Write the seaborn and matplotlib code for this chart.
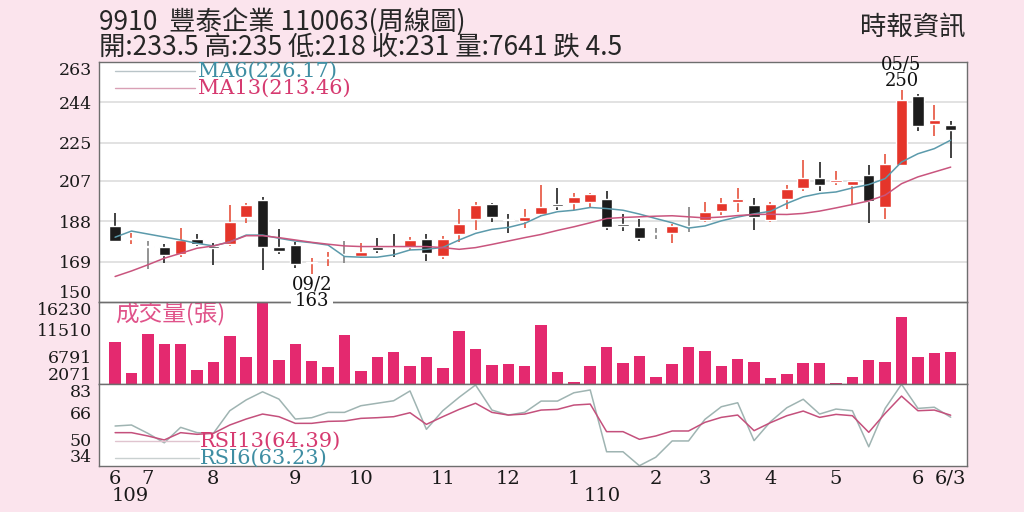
import numpy as np
import matplotlib
matplotlib.use("Agg")
import matplotlib.pyplot as plt
import seaborn as sns

# ── Data (weekly bars, 109/6 .. 110/6/3) ─────────────────────────────────────

weeks = list(range(52))

opens = [185.9, 179.6, 175.7, 175.7, 172.5, 179.8, 176.4, 177.2, 190.0, 197.8,
         175.7, 176.8, 168.2, 170.6, 172.1, 171.5, 175.7, 175.9, 176.0, 179.8,
         171.8, 182.0, 189.0, 196.2, 189.3, 188.2, 191.4, 196.2, 196.4, 197.1,
         198.7, 186.8, 185.3, 182.0, 182.3, 185.4, 188.5, 192.9, 197.1, 195.9,
         188.5, 198.3, 203.7, 208.4, 206.5, 205.3, 210.0, 194.8, 214.3, 247.1,
         234.0, 233.5]
highs = [192.0, 182.3, 178.7, 177.3, 184.7, 181.8, 177.6, 195.6, 196.7, 199.5,
         184.3, 178.4, 170.6, 173.4, 178.7, 177.6, 180.0, 181.8, 180.7, 182.0,
         181.0, 193.6, 197.1, 196.7, 191.2, 193.7, 205.3, 203.7, 201.1, 201.5,
         202.3, 191.2, 188.9, 184.7, 186.5, 194.8, 197.1, 199.0, 203.7, 199.0,
         197.1, 205.0, 216.7, 215.9, 211.7, 206.8, 214.3, 219.8, 250.0, 247.9,
         242.9, 235.0]
lows = [178.5, 177.2, 165.4, 168.5, 171.3, 176.5, 167.4, 176.5, 187.0, 165.1,
        172.5, 165.9, 163.0, 167.0, 168.2, 170.9, 172.9, 171.0, 174.5, 169.5,
        170.1, 178.4, 183.9, 187.8, 182.3, 184.9, 190.4, 193.2, 193.2, 194.8,
        183.9, 183.5, 178.8, 179.6, 177.9, 183.1, 187.8, 190.9, 192.4, 183.9,
        187.8, 193.7, 202.1, 202.3, 205.0, 195.9, 187.3, 188.9, 214.3, 230.3,
        228.1, 218.0]
closes = [178.8, 180.2, 175.7, 172.1, 179.2, 177.2, 175.6, 187.8, 195.7, 176.0,
          174.2, 167.9, 168.8, 171.4, 172.1, 173.4, 174.5, 175.5, 179.2, 173.1,
          179.8, 186.7, 195.7, 189.8, 188.5, 189.8, 194.6, 195.1, 199.2, 200.7,
          185.4, 185.6, 180.0, 182.0, 185.7, 185.4, 192.4, 196.7, 198.7, 189.8,
          196.2, 203.4, 208.2, 205.1, 207.3, 206.8, 197.6, 214.8, 244.9, 233.1,
          235.5, 231.0]

ma6 = [180.5, 183.4, 182.0, 180.6, 179.2, 177.6, 176.4, 178.3, 181.5, 181.5,
       180.0, 178.7, 177.9, 176.8, 171.4, 171.1, 171.1, 172.2, 174.5, 174.8,
       175.7, 179.2, 182.3, 184.2, 185.1, 187.0, 190.6, 192.5, 193.2, 194.5,
       194.0, 193.2, 191.4, 189.3, 187.3, 184.8, 185.8, 188.2, 190.0, 191.5,
       192.7, 196.4, 199.5, 201.1, 201.8, 203.7, 205.3, 208.1, 215.9, 219.8,
       222.2, 226.2]
ma13 = [162.0, 164.6, 167.5, 170.6, 172.9, 175.3, 176.4, 178.3, 181.2, 181.2,
        180.3, 179.2, 178.1, 177.2, 176.4, 176.1, 176.1, 176.1, 176.1, 176.1,
        175.6, 174.8, 175.6, 177.1, 178.7, 180.3, 181.8, 183.7, 185.4, 187.3,
        189.3, 189.8, 190.1, 190.4, 190.6, 190.1, 189.6, 190.0, 190.7, 191.2,
        191.3, 191.2, 191.7, 192.8, 194.3, 195.9, 197.6, 200.3, 205.7, 208.9,
        211.2, 213.5]

volume = [9266, 3970, 10763, 8978, 8950, 4604, 5928, 10302, 6733, 16230,
          6215, 8978, 6043, 5122, 10475, 4316, 6848, 7712, 5237, 6848,
          4834, 11281, 8115, 5352, 5525, 5237, 12260, 4201, 2416, 5179,
          8460, 5812, 7021, 3337, 5640, 8518, 7885, 5294, 6388, 5985,
          3222, 3913, 5697, 5812, 2301, 3395, 6273, 5928, 13641, 6791,
          7482, 7641]

rsi6 = [57.9, 58.5, 53.5, 47.8, 57.1, 53.9, 53.5, 67.1, 73.6, 78.5,
        74.1, 62.1, 62.9, 66.1, 66.1, 70.1, 71.6, 73.1, 79.0, 55.9,
        67.1, 75.2, 82.6, 67.5, 64.5, 66.1, 72.9, 72.9, 77.9, 79.6,
        42.4, 42.4, 34.0, 39.1, 48.9, 48.9, 61.9, 69.5, 71.9, 49.1,
        60.5, 68.9, 74.0, 65.1, 68.1, 67.1, 45.4, 68.5, 83.0, 68.5,
        69.2, 63.2]
rsi13 = [53.9, 53.9, 51.9, 49.5, 53.9, 52.9, 53.5, 58.5, 62.1, 65.1,
         63.5, 59.5, 59.5, 60.7, 60.9, 62.5, 62.9, 63.5, 65.9, 58.9,
         63.5, 67.9, 71.6, 66.1, 64.5, 65.1, 67.5, 67.9, 70.5, 71.1,
         54.5, 54.5, 49.9, 51.9, 54.9, 54.9, 60.1, 63.1, 64.5, 55.1,
         59.9, 64.1, 66.9, 63.1, 64.9, 64.1, 54.1, 65.5, 75.9, 67.1,
         67.5, 64.4]

# latest indicator values printed in the legends
ma6_last, ma13_last = 226.17, 213.46
rsi6_last, rsi13_last = 63.23, 64.39

month_pos = [0, 2, 6, 11, 15, 20, 24, 28, 33, 36, 40, 44, 49, 51]
month_labels = ["6", "7", "8", "9", "10", "11", "12", "1", "2", "3", "4", "5", "6", "6/3"]
year_pos = [0.9, 29.7]
year_labels = ["109", "110"]

price_ticks = [150, 169, 188, 207, 225, 244, 263]
vol_ticks = [2071, 6791, 11510, 16230]
rsi_ticks = [34, 50, 66, 83]

hi_idx, hi_date = 48, "05/5"
lo_idx, lo_date = 12, "09/2"

title_1 = "9910  豐泰企業 110063(周線圖)"
title_2 = "開:233.5 高:235 低:218 收:231 量:7641 跌 4.5"
source = "時報資訊"

# ── Style ─────────────────────────────────────────────────────────────────────

BG = "#fbe4ed"
RED = "#e5352a"
BLACK = "#1c1c1c"
GRAY = "#9a9a9a"
VOL = "#e4296f"
MA6_C = "#5b9aab"
MA13_C = "#c9557e"
TEAL_TXT = "#3f8ea3"
PINK_TXT = "#d63a70"
SPINE = "#6e6e6e"
CJK = ["Noto Sans CJK TC", "DejaVu Sans"]

sns.set_style("white")
plt.rcParams["font.family"] = ["DejaVu Serif"]

fig = plt.figure(figsize=(10.24, 5.12), dpi=100, facecolor=BG)
L, W = 0.0964, 0.848
ax_p = fig.add_axes([L, 0.4102, W, 0.4687])
ax_v = fig.add_axes([L, 0.2494, W, 0.1608], sharex=ax_p)
ax_r = fig.add_axes([L, 0.0904, W, 0.1590], sharex=ax_p)
ax_p.set_zorder(3)

for ax in (ax_p, ax_v, ax_r):
    ax.set_facecolor("white")
    for sp in ax.spines.values():
        sp.set_color(SPINE)
        sp.set_linewidth(1.0)
    ax.tick_params(axis="y", length=3, width=0.8, color=SPINE, pad=2,
                   labelsize=12.5, labelcolor="#1a1a1a")

# ── Price panel ───────────────────────────────────────────────────────────────

o = np.array(opens)
c = np.array(closes)
colors = [RED if cc > oo else (BLACK if cc < oo else GRAY) for oo, cc in zip(o, c)]
wick_colors = ["#e8604c" if col == RED else ("#333333" if col == BLACK else "#8a8a8a")
               for col in colors]
body_bottom = np.minimum(o, c)
body_height = np.maximum(np.abs(c - o), 0.6)

ax_p.vlines(weeks, lows, highs, colors=wick_colors, linewidth=1.3, zorder=2)
ax_p.bar(weeks, body_height, bottom=body_bottom, width=0.7, color=colors, zorder=2.5)

sns.lineplot(x=weeks, y=ma6, ax=ax_p, color=MA6_C, linewidth=1.1, zorder=3)
sns.lineplot(x=weeks, y=ma13, ax=ax_p, color=MA13_C, linewidth=1.1, zorder=3)

ax_p.set_ylim(price_ticks[0], price_ticks[-1])
ax_p.set_yticks(price_ticks, labels=[str(t) for t in price_ticks])
ax_p.grid(axis="y", color="#e2e2e2", linewidth=1.4)
ax_p.set_axisbelow(True)
ax_p.set_ylabel("")
ax_p.tick_params(axis="x", length=0, labelbottom=False)

# legend-style labels
for yy, txt, lc, tc in [(0.9625, f"MA6({ma6_last:.2f})", "#b9c4c8", TEAL_TXT),
                        (0.8917, f"MA13({ma13_last:.2f})", "#d9a0b5", PINK_TXT)]:
    ax_p.plot([0.019, 0.111], [yy, yy], transform=ax_p.transAxes, color=lc, lw=1.0)
    ax_p.text(0.1144, yy, txt, transform=ax_p.transAxes, color=tc, fontsize=15,
              va="center", ha="left")

ax_p.annotate(f"{hi_date}\n{highs[hi_idx]:.0f}", xy=(hi_idx, highs[hi_idx]),
              xytext=(0, 0), textcoords="offset points", ha="center", va="bottom",
              fontsize=13, linespacing=0.85, color="#111111")
ax_p.annotate(f"{lo_date}\n{lows[lo_idx]:.0f}", xy=(lo_idx, lows[lo_idx]),
              xytext=(0, -1), textcoords="offset points", ha="center", va="top",
              fontsize=13, linespacing=0.85, color="#111111", annotation_clip=False,
              bbox=dict(facecolor="white", edgecolor="none", pad=0.5))

# ── Volume panel ──────────────────────────────────────────────────────────────

sns.barplot(x=weeks, y=volume, ax=ax_v, native_scale=True, width=0.7, color=VOL,
            saturation=1, errorbar=None, linewidth=0)
ax_v.set_ylim(vol_ticks[0], vol_ticks[-1])
ax_v.set_yticks(vol_ticks, labels=[str(t) for t in vol_ticks])
ax_v.set_xlabel("")
ax_v.set_ylabel("")
ax_v.tick_params(axis="x", length=0, labelbottom=False)
ax_v.text(0.019, 0.866, "成交量(張)", transform=ax_v.transAxes, color="#e0538a",
          fontsize=17, family=CJK, va="center", ha="left")

# ── RSI panel ─────────────────────────────────────────────────────────────────

sns.lineplot(x=weeks, y=rsi6, ax=ax_r, color="#9fb4b2", linewidth=1.1)
sns.lineplot(x=weeks, y=rsi13, ax=ax_r, color="#c4507c", linewidth=1.1)
ax_r.set_ylim(rsi_ticks[0], rsi_ticks[-1])
ax_r.set_yticks(rsi_ticks, labels=[str(t) for t in rsi_ticks])
ax_r.set_ylabel("")

for yy, txt, lc, tc in [(0.303, f"RSI13({rsi13_last:.2f})", "#e0c4cf", PINK_TXT),
                        (0.095, f"RSI6({rsi6_last:.2f})", "#c9d0d0", TEAL_TXT)]:
    ax_r.plot([0.019, 0.115], [yy, yy], transform=ax_r.transAxes, color=lc, lw=1.0)
    ax_r.text(0.117, yy, txt, transform=ax_r.transAxes, color=tc, fontsize=15,
              va="center", ha="left")

ax_r.set_xlim(-1, 52)
ax_r.set_xticks(month_pos, labels=month_labels)
ax_r.set_xticks(weeks, minor=True)
ax_r.tick_params(axis="x", which="major", length=3, width=0.8, color=SPINE,
                 labelsize=14, pad=0, labelcolor="#1a1a1a")
ax_r.tick_params(axis="x", which="minor", length=3, width=0.6, color=SPINE)
ax_r.set_xlabel("")
for xp, yl in zip(year_pos, year_labels):
    ax_r.text(xp, -0.37, yl, transform=ax_r.get_xaxis_transform(), fontsize=14,
              ha="center", va="center", color="#1a1a1a")

# shift end labels inward like the original
for ax in (ax_p, ax_v, ax_r):
    labs = ax.get_yticklabels()
    labs[0].set_va("bottom")
    labs[-1].set_va("top")

# ── Header ────────────────────────────────────────────────────────────────────

fig.text(0.097, 0.955, title_1, fontsize=19, family=CJK, va="center", ha="left")
fig.text(0.097, 0.906, title_2, fontsize=19, family=CJK, va="center", ha="left")
fig.text(0.943, 0.947, source, fontsize=19, family=CJK, va="center", ha="right")

fig.savefig("out.png", dpi=100, facecolor=BG)
